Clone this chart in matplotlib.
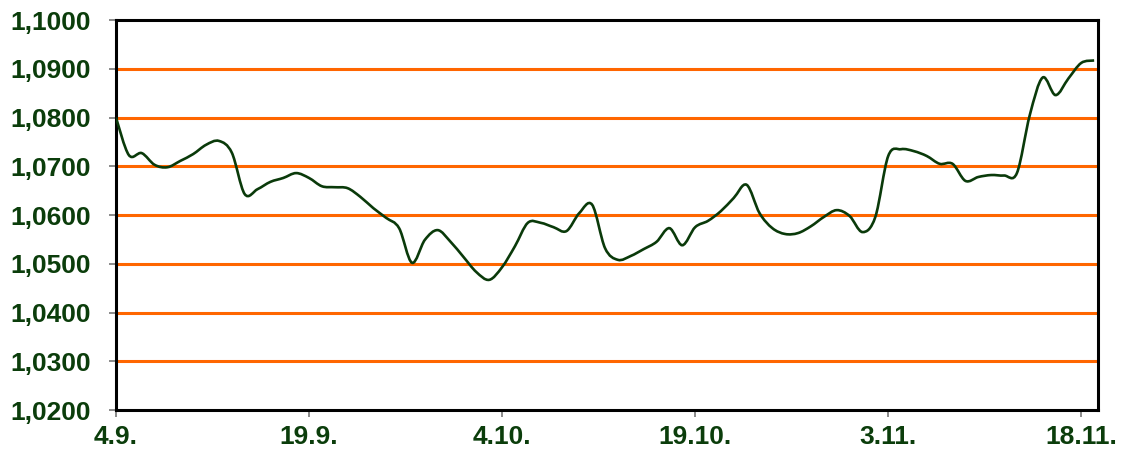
import matplotlib.pyplot as plt
from matplotlib.path import Path
from matplotlib.patches import PathPatch

# Kurz – denní hodnoty (dny od 4.9.)
days = list(range(0, 77))
rates = [
    1.0800, 1.0723, 1.0727, 1.0703, 1.0698, 1.0711, 1.0725, 1.0744, 1.0752, 1.0728,
    1.0643, 1.0653, 1.0668, 1.0676, 1.0686, 1.0676, 1.0659, 1.0657, 1.0655, 1.0637,
    1.0614, 1.0594, 1.0573, 1.0502, 1.0549, 1.0569, 1.0545, 1.0514, 1.0483, 1.0467,
    1.0493, 1.0536, 1.0584, 1.0584, 1.0575, 1.0567, 1.0604, 1.0621, 1.0532, 1.0508,
    1.0516, 1.0530, 1.0545, 1.0573, 1.0538, 1.0575, 1.0588, 1.0608, 1.0635, 1.0662,
    1.0604, 1.0573, 1.0561, 1.0563, 1.0577, 1.0596, 1.0610, 1.0598, 1.0565, 1.0596,
    1.0721, 1.0735, 1.0731, 1.0721, 1.0705, 1.0705, 1.0670, 1.0678, 1.0682, 1.0681,
    1.0686, 1.0805, 1.0882, 1.0846, 1.0880, 1.0912, 1.0917,
]

tick_days = [0, 15, 30, 45, 60, 75]
tick_labels = ['4.9.', '19.9.', '4.10.', '19.10.', '3.11.', '18.11.']
y_ticks = [1.02, 1.03, 1.04, 1.05, 1.06, 1.07, 1.08, 1.09, 1.10]

green = '#0b3d0b'

fig = plt.figure(figsize=(11.28, 4.55), dpi=100)
ax = fig.add_axes([0.1028, 0.0989, 0.8706, 0.8571])

for y in y_ticks[1:-1]:
    ax.axhline(y, color='#ff6600', linewidth=2.2, zorder=1)

# vyhlazená čára (jako "smoothed line" v Excelu) – Bézierovy křivky přes body
verts = [(days[0], rates[0])]
codes = [Path.MOVETO]
n = len(days)
for i in range(n - 1):
    x0, y0 = days[max(i - 1, 0)], rates[max(i - 1, 0)]
    x1, y1 = days[i], rates[i]
    x2, y2 = days[i + 1], rates[i + 1]
    x3, y3 = days[min(i + 2, n - 1)], rates[min(i + 2, n - 1)]
    verts += [(x1 + (x2 - x0) / 6, y1 + (y2 - y0) / 6),
              (x2 - (x3 - x1) / 6, y2 - (y3 - y1) / 6),
              (x2, y2)]
    codes += [Path.CURVE4] * 3
ax.add_patch(PathPatch(Path(verts, codes), facecolor='none',
                       edgecolor='#0a3a0a', linewidth=1.9, zorder=3))

ax.set_xlim(0, 76.3)
ax.set_ylim(1.02, 1.10)
ax.set_xticks(tick_days)
ax.set_xticklabels(tick_labels)
ax.set_yticks(y_ticks)
ax.set_yticklabels([f'{v:.4f}'.replace('.', ',') for v in y_ticks])

for lab in ax.get_xticklabels() + ax.get_yticklabels():
    lab.set_fontfamily('Liberation Sans')
    lab.set_fontweight('bold')
    lab.set_fontsize(19)
    lab.set_color(green)

ax.tick_params(axis='both', direction='out', length=5, width=1.2, color='#777777')
ax.tick_params(axis='y', pad=13)
ax.tick_params(axis='x', pad=6)

for s in ax.spines.values():
    s.set_color('black')
    s.set_linewidth(2.2)

fig.savefig('out.png', dpi=100)
